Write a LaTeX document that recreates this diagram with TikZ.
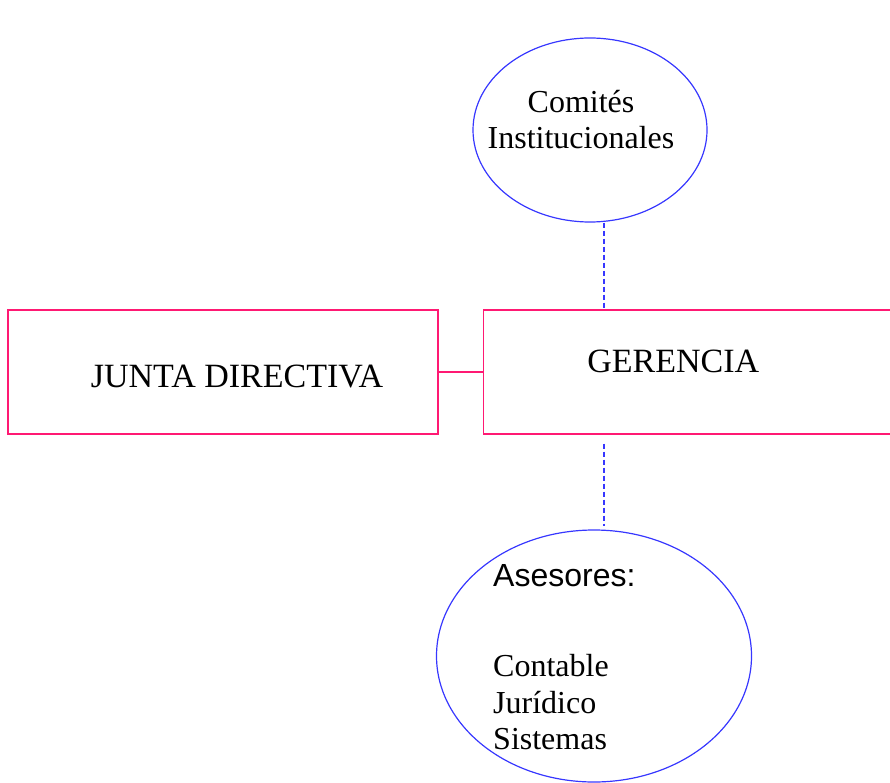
\documentclass[tikz,border=0pt]{standalone}
\usepackage{fontspec}
\setmainfont{Liberation Serif}
\setsansfont{Liberation Sans}
\usetikzlibrary{shapes.geometric,positioning}
\definecolor{boxPink}{RGB}{255,25,115}
\definecolor{ovalBlue}{RGB}{55,55,255}
\tikzset{
	%Define style for boxes
	box/.style={
		rectangle,
		draw=boxPink, line width=1.3pt,
		minimum width=430pt,
		minimum height=124pt,
		inner sep=0pt,
		font=\fontsize{34}{40}\selectfont},
	%Define style for ovals
	oval/.style={
		ellipse,
		draw=ovalBlue, line width=1.2pt,
		inner sep=0pt},
	%Define style for oval texts
	ovalText/.style={
		inner sep=0pt,
		font=\fontsize{32}{36.5}\selectfont},
	% Define line styles
	edgeStyle/.style={
		draw=boxPink, line width=1.3pt},
	dashEdge/.style={
		draw=ovalBlue, line width=1.4pt, dash pattern=on 5pt off 3pt}
}

\begin{document}
\begin{tikzpicture}[x=1pt,y=-1pt]
	\useasboundingbox (0,0) rectangle (890,783);
	\clip (0,0) rectangle (890,783);
	
	%nodes
	\node[box, text height=31pt, text depth=0pt] (juntaNode) at (223,372) {\hspace{28pt}JUNTA DIRECTIVA};
	\node[box, minimum width=418pt, text height=20pt, text depth=20pt, right=44pt of juntaNode] (gerenciaNode) {GERENCIA\kern38pt\null};
	
	\node[oval, minimum width=234pt, minimum height=184pt] (comitesNode) at (590,130) {};
	\node[ovalText, align=center, anchor=north] (comitesText) at (581,90) {Comités\\Institucionales};
	
	\node[oval, minimum width=315pt, minimum height=252pt] (asesoresNode) at (594,656) {};
	\node[ovalText, align=left, anchor=north west] (asesoresText) at (493,564) {\textsf{Asesores:}\\[54pt]Contable\\Jurídico\\Sistemas};
	
	%connectors
	\coordinate (axisLine) at (604,0);
	\draw[edgeStyle] (juntaNode.east) -- (gerenciaNode.west);
	\draw[dashEdge] (comitesNode.south -| axisLine) -- (gerenciaNode.north -| axisLine);
	\draw[dashEdge, shorten <=9pt, shorten >=3pt] (gerenciaNode.south -| axisLine) -- (asesoresNode.north -| axisLine);
	
\end{tikzpicture}
\end{document}
